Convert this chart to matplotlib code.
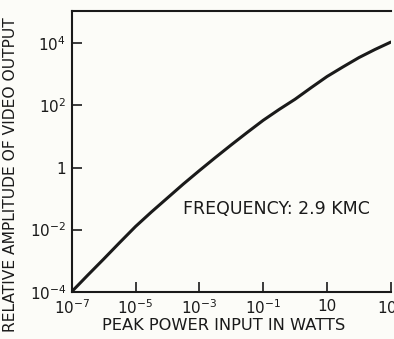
import matplotlib
matplotlib.use("Agg")
import matplotlib.pyplot as plt

# Data (peak power in watts vs relative amplitude)
power_w = [1e-7, 10**-6.5, 1e-6, 10**-5.5, 1e-5, 10**-4.5, 1e-4, 10**-3.5, 1e-3,
           10**-2.5, 1e-2, 10**-1.5, 1e-1, 10**-0.5, 1e0, 10**0.5, 1e1, 10**1.5,
           1e2, 10**2.5, 1e3]
amplitude = [10**-4.0, 10**-3.47, 10**-2.95, 10**-2.42, 10**-1.9, 10**-1.43,
             10**-0.98, 10**-0.53, 10**-0.1, 10**0.32, 10**0.73, 10**1.13,
             10**1.52, 10**1.87, 10**2.2, 10**2.57, 10**2.93, 10**3.24,
             10**3.54, 10**3.80, 10**4.04]

xticks = [1e-7, 1e-5, 1e-3, 1e-1, 1e1, 1e3]
xticklabels = [r"$10^{-7}$", r"$10^{-5}$", r"$10^{-3}$", r"$10^{-1}$", "10", r"$10^{3}$"]
yticks = [1e-4, 1e-2, 1e0, 1e2, 1e4]
yticklabels = [r"$10^{-4}$", r"$10^{-2}$", "1", r"$10^{2}$", r"$10^{4}$"]

plt.rcParams['font.family'] = ['DejaVu Sans']

bg = "#fcfcf8"
ink = "#1a1a1a"

fig = plt.figure(figsize=(3.94, 3.39), dpi=100, facecolor=bg)
ax = fig.add_axes([0.182, 0.1395, 0.810, 0.828], facecolor=bg)

ax.plot(power_w, amplitude, color=ink, lw=2.2, solid_capstyle="round")

ax.set_xscale("log")
ax.set_yscale("log")
ax.set_xlim(1e-7, 1e3)
ax.set_ylim(1e-4, 10**5.04)

ax.set_xticks(xticks)
ax.set_xticklabels(xticklabels)
ax.set_yticks(yticks)
ax.set_yticklabels(yticklabels)
ax.minorticks_off()

ax.tick_params(axis="both", direction="in", length=7, width=1.2, colors=ink,
               labelsize=11, pad=4)
ax.tick_params(axis="x", pad=5)

for side in ["left", "bottom", "top"]:
    ax.spines[side].set_linewidth(1.5)
    ax.spines[side].set_color(ink)
ax.spines["right"].set_visible(False)

ax.set_xlabel("PEAK POWER INPUT IN WATTS", fontsize=11.7, color=ink, labelpad=0)
ax.xaxis.set_label_coords(0.477, -0.095)
ax.set_ylabel("RELATIVE AMPLITUDE OF VIDEO OUTPUT", fontsize=11.2, color=ink)
ax.yaxis.set_label_coords(-0.168, 0.418)

ax.text(0.349, 0.295, "FREQUENCY: 2.9 KMC", transform=ax.transAxes,
        fontsize=12.5, color=ink, ha="left", va="center")

fig.savefig("out.png", dpi=100, facecolor=bg)
